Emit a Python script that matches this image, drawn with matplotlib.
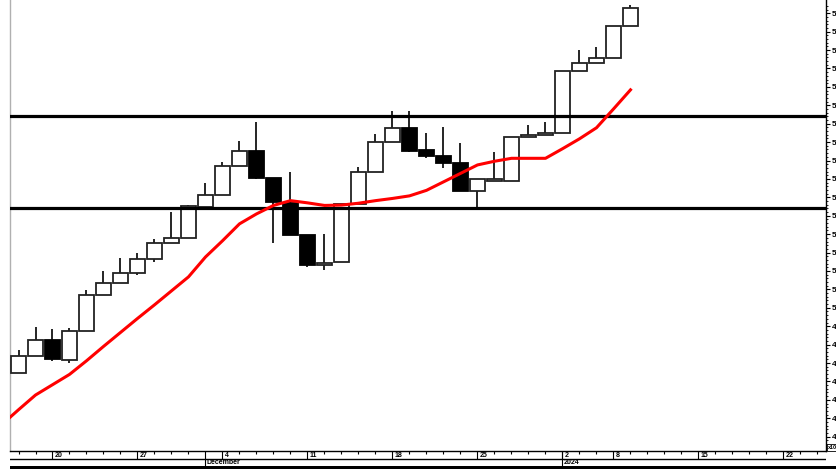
import matplotlib
matplotlib.use("Agg")
import matplotlib.pyplot as plt
from matplotlib.patches import Rectangle
import numpy as np

plt.rcParams['font.family'] = ['Liberation Sans', 'DejaVu Sans']

# ---- data ----
opens  = [482.2, 486.9, 491.2, 485.8, 493.6, 503.6, 506.8, 509.4, 513.2, 517.7,
          518.9, 527.5, 530.7, 538.6, 542.7, 535.2, 528.4, 519.8, 511.5, 512.4,
          528.2, 536.8, 545.1, 548.9, 542.9, 541.3, 539.3, 531.6, 534.5, 534.5,
          546.4, 546.9, 547.6, 564.3, 566.6, 567.9, 576.6]
highs  = [488.5, 494.8, 494.3, 494.5, 504.8, 510.0, 513.5, 514.9, 518.7, 526.0,
          528.0, 533.8, 539.7, 545.4, 550.5, 535.2, 537.0, 519.8, 520.0, 528.2,
          538.3, 547.1, 553.5, 553.5, 547.4, 549.2, 544.7, 534.9, 542.3, 546.4,
          549.6, 550.4, 564.3, 570.0, 570.9, 576.6, 582.3]
lows   = [482.2, 486.9, 485.6, 485.1, 493.6, 503.6, 506.8, 509.0, 512.5, 517.7,
          518.9, 527.5, 530.7, 538.6, 534.9, 517.6, 519.8, 511.2, 510.3, 512.4,
          528.2, 536.8, 545.1, 542.4, 540.6, 537.9, 531.6, 527.5, 534.5, 534.5,
          546.4, 546.9, 547.6, 564.3, 566.6, 567.9, 576.6]
closes = [486.9, 491.2, 486.0, 493.6, 503.6, 506.8, 509.4, 513.2, 517.7, 518.9,
          527.7, 530.7, 538.6, 542.7, 535.2, 528.8, 519.8, 511.5, 512.3, 528.2,
          536.8, 545.1, 548.9, 542.7, 541.3, 539.3, 531.6, 534.9, 534.9, 546.4,
          546.9, 547.6, 564.3, 566.6, 567.9, 576.6, 581.4]
# moving average, starting one bar before the first visible bar
ma_values = [468.2, 472.3, 476.3, 479.1, 481.9, 485.6, 489.5, 493.3, 497.1, 500.8,
             504.6, 508.4, 513.8, 518.2, 522.8, 525.5, 527.8, 529.1, 528.5, 527.8,
             527.9, 528.4, 529.1, 529.7, 530.4, 531.9, 534.2, 536.5, 538.8, 539.8,
             540.6, 540.6, 540.6, 543.2, 545.9, 548.9, 554.0, 559.2]
levels = [552.2, 527.0]

n_slots = 48
major_idx = [2, 7, 12, 17, 22, 27, 32, 35, 40, 45]
major_lbl = ["20", "27", "4", "11", "18", "25", "2", "8", "15", "22"]
month_idx = [11, 32]
month_lbl = ["December", "2024"]
ytick_vals = list(range(465, 581, 5))
# the reference only shows the leading digit of each price label
ytick_lbl = [str(v)[0] for v in ytick_vals]

# ---- figure ----
FW, FH = 837, 469
fig = plt.figure(figsize=(FW / 100, FH / 100), dpi=100)
L = 10 / FW
W = 816 / FW
ax = fig.add_axes([L, 18 / FH, W, 451 / FH])
ax.set_xlim(-0.5, n_slots - 0.5)
ax.set_ylim(461.1, 583.6)

x = np.arange(len(opens))
o = np.array(opens); c = np.array(closes)
h = np.array(highs); l = np.array(lows)
up = c >= o

ax.vlines(x, l, h, color='black', lw=1.2, zorder=2)
bottoms = np.minimum(o, c)
heights = np.maximum(np.abs(c - o), 0.15)
ax.bar(x[up], heights[up], bottom=bottoms[up], width=0.94,
       facecolor='white', edgecolor='#222222', lw=1.3, zorder=3)
ax.bar(x[~up], heights[~up], bottom=bottoms[~up], width=0.94,
       facecolor='black', edgecolor='black', lw=1.3, zorder=3)

for lv in levels:
    ax.axhline(lv, color='black', lw=2.3, zorder=4)

ax.plot(np.arange(-1, len(ma_values) - 1), ma_values, color='#ff0000', lw=2.2,
        zorder=5, solid_joinstyle='round')

# axes styling
ax.spines['top'].set_visible(False)
ax.spines['left'].set_color('#b0b0b0')
ax.spines['left'].set_linewidth(1.0)
ax.spines['right'].set_color('black')
ax.spines['right'].set_linewidth(1.0)
ax.spines['bottom'].set_color('black')
ax.spines['bottom'].set_linewidth(1.0)
ax.set_xticks([])
ax.yaxis.tick_right()
ax.set_yticks(ytick_vals)
ax.set_yticklabels(ytick_lbl, fontsize=6, fontweight='bold')
ax.set_yticks(np.arange(462, 583, 1), minor=True)
ax.tick_params(axis='y', which='major', length=3, width=0.8, pad=1.5, direction='out')
ax.tick_params(axis='y', which='minor', length=1.6, width=0.6, direction='out')

# ---- date axis ----
axd = fig.add_axes([L, 0, W, 18 / FH])
axd.set_xlim(-0.5, n_slots - 0.5)
axd.set_ylim(18, 0)
axd.axis('off')
axd.axhline(8, color='black', lw=1.0)
minor_idx = [i for i in range(n_slots) if i not in major_idx and i not in month_idx]
axd.vlines(minor_idx, 0, 2.5, color='black', lw=0.8)
axd.vlines(major_idx, 0, 8, color='black', lw=0.8)
axd.vlines(month_idx, 0, 15, color='black', lw=0.8)
for xi, t in zip(major_idx, major_lbl):
    axd.text(xi + 0.12, 4.6, t, ha='left', va='center', fontsize=5, fontweight='bold')
for xi, t in zip(month_idx, month_lbl):
    axd.text(xi + 0.05, 11.8, t, ha='left', va='center', fontsize=5, fontweight='bold')

fig.add_artist(Rectangle((10 / FW, 0), 827 / FW, 3 / FH, transform=fig.transFigure,
                         facecolor='black', edgecolor='none'))
fig.text(828 / FW, (FH - 450) / FH, "x10", fontsize=4, fontweight='bold',
         ha='left', va='bottom',
         bbox=dict(boxstyle='square,pad=0.15', fc='white', ec='black', lw=0.6))

fig.savefig("out.png", dpi=100)
